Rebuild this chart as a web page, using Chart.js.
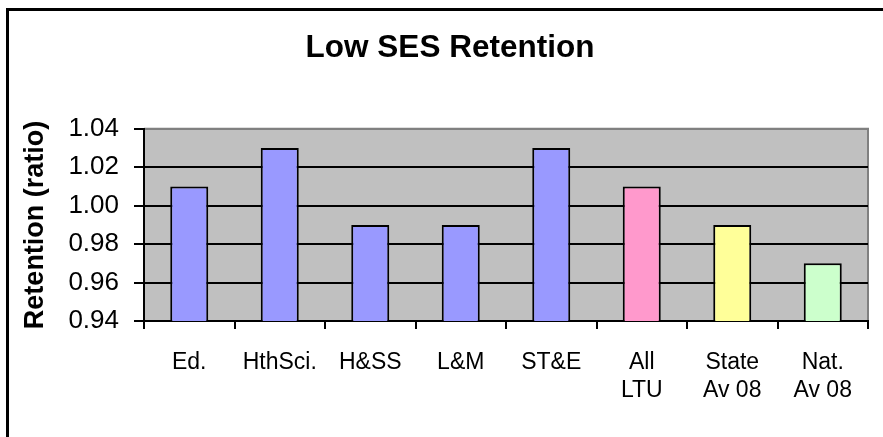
<!DOCTYPE html>
<html>
<head>
<meta charset="utf-8">
<style>
  html, body { margin: 0; padding: 0; background: #fff; }
  #wrap { width: 883px; height: 437px; }
</style>
<script src="https://cdn.jsdelivr.net/npm/chart.js@4"></script>
</head>
<body>
<div id="wrap"><canvas id="myChart" width="883" height="437"></canvas></div>
<script>
'use strict';

// DATA
var categories = ['Ed.', 'HthSci.', 'H&SS', 'L&M', 'ST&E', ['All', 'LTU'], ['State', 'Av 08'], ['Nat.', 'Av 08']];
var retention = [1.01, 1.03, 0.99, 0.99, 1.03, 1.01, 0.99, 0.97];
var barColors = ['#9999FF', '#9999FF', '#9999FF', '#9999FF', '#9999FF', '#FF99CC', '#FFFF99', '#CCFFCC'];
var yMin = 0.94;
var yMax = 1.04;
var yStep = 0.02;

// PLOT BACKGROUND + OUTER FRAME
var framePlugin = {
  id: 'frame',
  beforeDraw: function (chart) {
    var c = chart.ctx;
    var a = chart.chartArea;
    c.save();
    c.fillStyle = '#C0C0C0';
    c.fillRect(a.left, a.top, a.right - a.left, a.bottom - a.top);
    c.strokeStyle = '#808080';
    c.lineWidth = 2;
    c.beginPath();
    c.moveTo(a.left, a.top);
    c.lineTo(a.right, a.top);
    c.lineTo(a.right, a.bottom);
    c.stroke();
    // outer border, only top and left visible
    c.strokeStyle = '#000';
    c.lineWidth = 3;
    c.beginPath();
    c.moveTo(7.5, 437);
    c.lineTo(7.5, 9.5);
    c.lineTo(883, 9.5);
    c.stroke();
    c.restore();
  }
};

var ctx = document.getElementById('myChart');
var myChart = new Chart(ctx, {
  type: 'bar',
  data: {
    labels: categories,
    datasets: [{
      label: 'Retention',
      data: retention,
      backgroundColor: barColors,
      borderColor: '#000',
      borderWidth: 2,
      borderSkipped: false,
      barPercentage: 0.42,
      categoryPercentage: 1
    }]
  },
  options: {
    responsive: false,
    animation: false,
    layout: { padding: { left: 32, right: 15, top: 0, bottom: 0 } },
    plugins: {
      legend: { display: false },
      tooltip: { enabled: false },
      title: {
        display: true,
        text: 'Low SES Retention',
        color: '#000',
        font: { family: 'Liberation Sans', size: 31.5, weight: 'bold', lineHeight: 1.2 },
        padding: { top: 29, bottom: 62 }
      }
    },
    scales: {
      x: {
        offset: true,
        grid: {
          offset: true,
          drawOnChartArea: false,
          tickLength: 8,
          tickColor: '#000',
          lineWidth: 2
        },
        border: { color: '#000', width: 2 },
        ticks: {
          color: '#000',
          padding: 20,
          maxRotation: 0,
          autoSkip: false,
          font: { family: 'Liberation Sans', size: 23, lineHeight: 1.22 }
        },
        afterFit: function (scale) { scale.height = 116; }
      },
      y: {
        min: yMin,
        max: yMax,
        grid: {
          color: function (c) { return c.tick && Math.abs(c.tick.value - yMax) < 1e-9 ? '#808080' : '#000'; },
          tickColor: '#000',
          tickLength: 10,
          lineWidth: 2
        },
        border: { color: '#000', width: 2 },
        ticks: {
          stepSize: yStep,
          color: '#000',
          padding: 15,
          font: { family: 'Liberation Sans', size: 26 },
          callback: function (v) { return v.toFixed(2); }
        },
        title: {
          display: true,
          text: 'Retention (ratio)',
          color: '#000',
          font: { family: 'Liberation Sans', size: 27, weight: 'bold', lineHeight: 1 },
          padding: { top: -10, bottom: 0 }
        },
        afterFit: function (scale) { scale.width = 112; }
      }
    }
  },
  plugins: [framePlugin]
});
</script>
</body>
</html>
